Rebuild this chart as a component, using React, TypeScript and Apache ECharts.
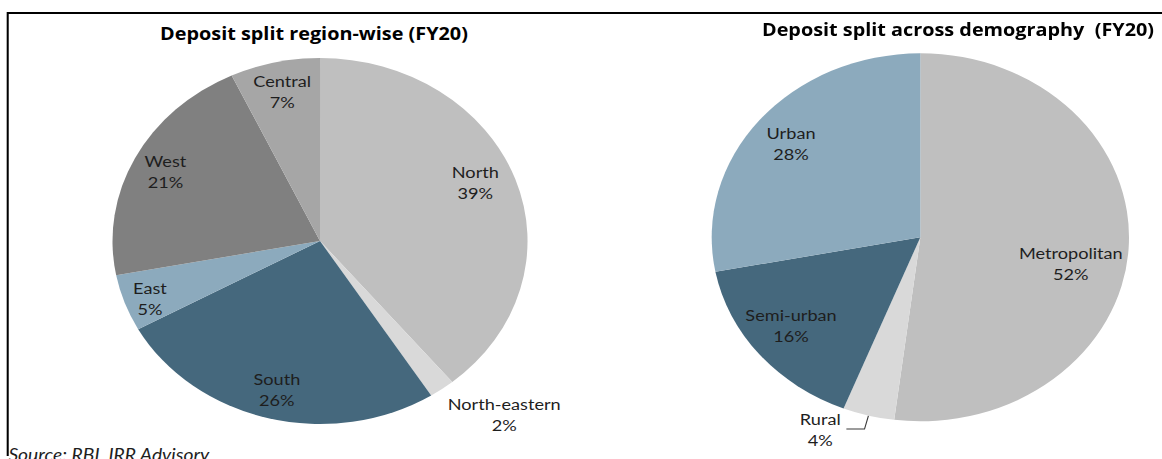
import React, { useEffect, useRef } from "react";
import * as echarts from "echarts";

// ---- data ----
const regionNames = ["North", "North-eastern", "South", "East", "West", "Central"];
const regionShares = [39, 2, 26, 5, 21, 7];
const demographyNames = ["Metropolitan", "Rural", "Semi-urban", "Urban"];
const demographyShares = [52, 4, 16, 28];
const regionTitle = "Deposit split region-wise (FY20)";
const demographyTitle = "Deposit split across demography  (FY20)";
const sourceNote = "Source: RBI, IRR Advisory";

// ---- style ----
const regionColors = ["#BFBFBF", "#D9D9D9", "#45687D", "#8CAABD", "#808080", "#A6A6A6"];
const demographyColors = ["#BFBFBF", "#D9D9D9", "#45687D", "#8CAABD"];

const SX = 1.134; // the reference pies are stretched horizontally
const W = 1162;
const H = 459;
const IW = W / SX;
const FONT = "Lato, 'Open Sans', sans-serif";
const TITLE_FONT = "'Open Sans', Lato, sans-serif";
const TEXT = "#1e1e1e";

// label nudges (dx, dy) keyed by name
const nudges: Record<string, [number, number]> = {
  North: [-7, -7],
  East: [-6, 6],
  "North-eastern": [0, 25],
  Metropolitan: [-15, 17],
  "Semi-urban": [0, -6],
};
const outsideNames = ["North-eastern", "Rural"];
const leaderNames = ["Rural"];

const labelRich = {
  t: { align: "center", fontSize: 16, lineHeight: 21, color: TEXT, fontFamily: FONT },
};

function sectorSeries(names: string[], values: number[], colors: string[], center: number[], r: number) {
  return {
    type: "pie",
    center,
    radius: [0, r],
    startAngle: 90,
    clockwise: true,
    silent: true,
    label: { show: false },
    labelLine: { show: false },
    data: names.map((n, i) => ({ name: n, value: values[i], itemStyle: { color: colors[i] } })),
  };
}

function labelSeries(names: string[], values: number[], center: number[], r0: number, r: number) {
  return {
    type: "pie",
    center,
    radius: [r0, r],
    startAngle: 90,
    clockwise: true,
    silent: true,
    avoidLabelOverlap: false,
    itemStyle: { color: "rgba(0,0,0,0)" },
    label: {
      show: true,
      position: "inside",
      color: TEXT,
      fontFamily: FONT,
      fontSize: 16,
      formatter: "{t|{b}}\n{t|{c}%}",
      rich: labelRich,
    },
    labelLine: { show: false },
    labelLayout: (p: any) => {
      const nm = names[p.dataIndex];
      const n = nudges[nm];
      return n ? { dx: n[0], dy: n[1] } : {};
    },
    data: names.map((n, i) => {
      const item: any = { name: n, value: values[i] };
      if (outsideNames.includes(n)) {
        const lead = leaderNames.includes(n);
        item.label = { position: "outside", distanceToLabelLine: 5 };
        item.labelLine = {
          show: lead,
          length: lead ? 14 : 0,
          length2: lead ? 16 : 0,
          lineStyle: { color: "#3a3a3a", width: 1 },
        };
      }
      return item;
    }),
  };
}

export default function App() {
  const ref = useRef<HTMLDivElement>(null);
  useEffect(() => {
    if (!ref.current) return;
    const chart = echarts.init(ref.current, null, { renderer: "svg", width: IW, height: H });
    const leftC = [282.2, 241];
    const rightC = [811.6, 237.3];
    chart.setOption({
      animation: false,
      backgroundColor: "#ffffff",
      graphic: [
        { type: "line", shape: { x1: 6.8, y1: 13, x2: IW + 2, y2: 13 }, style: { stroke: "#000", lineWidth: 2 } },
        { type: "line", shape: { x1: 6.8, y1: 12, x2: 6.8, y2: 456 }, style: { stroke: "#000", lineWidth: 1.8 } },
        {
          type: "text",
          x: 276.9,
          y: 33,
          style: { text: regionTitle, fontFamily: TITLE_FONT, fontWeight: "bold", fontSize: 17.5, fill: "#000", align: "center", verticalAlign: "middle" },
        },
        {
          type: "text",
          x: 844.8,
          y: 29,
          style: { text: demographyTitle, fontFamily: TITLE_FONT, fontWeight: "bold", fontSize: 17.5, fill: "#000", align: "center", verticalAlign: "middle" },
        },
        {
          type: "text",
          x: 7.4,
          y: 454.5,
          style: { text: sourceNote, fontFamily: FONT, fontStyle: "italic", fontSize: 17, fill: "#1e1e1e", align: "left", verticalAlign: "middle" },
        },
      ],
      series: [
        sectorSeries(regionNames, regionShares, regionColors, leftC, 183),
        labelSeries(regionNames, regionShares, leftC, 117, 183),
        sectorSeries(demographyNames, demographyShares, demographyColors, rightC, 184),
        labelSeries(demographyNames, demographyShares, rightC, 106, 184),
      ],
    });
    return () => chart.dispose();
  }, []);
  return (
    <div style={{ position: "absolute", left: 0, top: 0, width: W, height: H, overflow: "hidden", background: "#fff" }}>
      <div
        ref={ref}
        style={{ width: IW, height: H, transform: `scaleX(${SX})`, transformOrigin: "0 0" }}
      />
    </div>
  );
}
